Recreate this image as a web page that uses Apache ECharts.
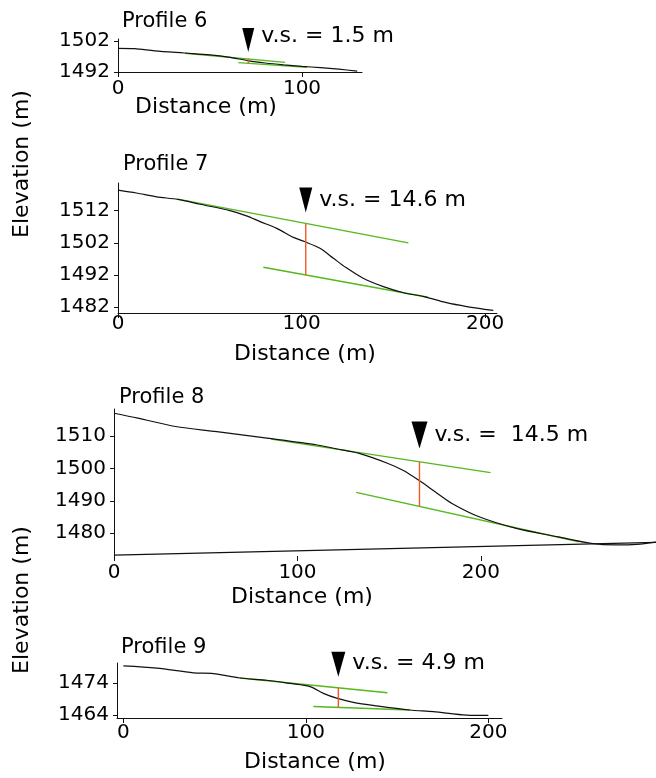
<!DOCTYPE html>
<html>
<head>
<meta charset="utf-8">
<script src="https://cdn.jsdelivr.net/npm/echarts@6.0.0/dist/echarts.min.js"></script>
<style>
  html, body { margin: 0; padding: 0; background: #fff; }
  #chart { width: 656px; height: 778px; }
</style>
</head>
<body>
<div id="chart"></div>
<script>
// profile names and vertical separation labels
const profileNames = ['Profile 6', 'Profile 7', 'Profile 8', 'Profile 9']
const vsLabels = ['v.s. = 1.5 m', 'v.s. = 14.6 m', 'v.s. =  14.5 m', 'v.s. = 4.9 m']

// surface profiles: distance (m) / elevation (m)
const dist6 = [0, 9, 20, 36, 50, 60, 71, 80, 90, 100, 110, 120, 130]
const elev6 = [1499.6, 1499.5, 1498.8, 1498.1, 1497.5, 1496.8, 1495.6, 1494.9, 1494.3, 1493.8, 1493.4, 1492.9, 1492.3]

const dist7 = [0, 10, 21, 32.6, 44.7, 61, 70, 77.4, 86.5, 95.6, 101.6, 110, 117.4, 124, 133.6, 144.6, 155.6, 166.7, 179, 190, 204.5]
const elev7 = [1518.4, 1517.5, 1516.3, 1515.5, 1514, 1512, 1510.4, 1508.6, 1506.5, 1503.7, 1502.4, 1500.3, 1497.2, 1494.4, 1491, 1488.4, 1486.5, 1485.3, 1483.4, 1482.2, 1481]

const dist8 = [0, 13, 33.5, 56, 83.4, 110.6, 125, 133.2, 149, 158, 166, 175, 184.2, 199, 219.3, 242, 260, 273.6, 285, 295.4]
const elev8 = [1517, 1515.5, 1512.9, 1511.3, 1509.3, 1507.2, 1505.6, 1504.7, 1501.6, 1499.3, 1496.4, 1492.8, 1489.2, 1485.1, 1481.5, 1478.9, 1476.9, 1476.4, 1476.6, 1477.3]

const dist9 = [0, 18.3, 38.4, 49.3, 63.9, 78.6, 91.3, 102.3, 109.6, 116.9, 126, 138.8, 157, 169.9, 188.2, 200]
const elev9 = [1479.3, 1478.6, 1477.1, 1476.9, 1475.5, 1474.8, 1473.8, 1472.8, 1470.7, 1469.2, 1467.9, 1466.8, 1465.5, 1465, 1463.9, 1463.8]

// fitted slope lines [start, end] as [distance, elevation]
const upperFit = [
  [[36.4, 1498.0], [90.8, 1495.1]],
  [[32.6, 1515.6], [158.2, 1502.0]],
  [[85.6, 1509.0], [205.2, 1498.7]],
  [[63.9, 1475.5], [144.7, 1470.9]]
]
const lowerFit = [
  [[65.4, 1495.0], [102.7, 1493.5]],
  [[79.2, 1494.4], [169.0, 1485.1]],
  [[132.0, 1492.6], [253.3, 1477.4]],
  [[104.1, 1466.6], [157.0, 1465.5]]
]

// vertical separation: where it is measured, top and bottom elevation
const vsDist = [70.8, 102.3, 166.5, 117.8]
const vsTop = [1496.2, 1508.0, 1502.0, 1472.4]
const vsBottom = [1494.8, 1492.0, 1488.3, 1466.3]
const markerElev = [1502.3, 1515.3, 1510.3, 1479.8]

// sloping base line under profile 8
const base8 = [[0, 1473.3], [295.4, 1477.2]]

// axis ranges and ticks
const xMin = [0, 0, 0, -3.5]
const xMax = [132.6, 206.5, 295.4, 207.5]
const yMin = [1492, 1480.2, 1473, 1463]
const yMax = [1502.6, 1520.6, 1518.3, 1480.2]
const xTicks = [[0, 100], [0, 100, 200], [0, 100, 200], [0, 100, 200]]
const yTicks = [[1492, 1502], [1482, 1492, 1502, 1512], [1480, 1490, 1500, 1510], [1464, 1474]]

const surfaces = [[dist6, elev6], [dist7, elev7], [dist8, elev8], [dist9, elev9]]

const chart = echarts.init(document.getElementById('chart'))
const font = 'DejaVu Sans'
const green = '#55b81c'
const red = '#ef5a24'

// plot areas
const grids = [
  { left: 118, top: 39, width: 244, height: 33 },
  { left: 118, top: 183, width: 379, height: 130 },
  { left: 114, top: 409, width: 542, height: 147 },
  { left: 117, top: 663, width: 385, height: 55 }
]
const titleTops = [11, 154, 387, 637]
const titleLefts = [122, 123, 119, 121]
const xLabelMargin = [7, 1, 7, 5]
const markerSize = [[12, 24], [13, 25], [16, 27], [14, 25]]
const labelOffsetY = [-4, 0, 0, -1]

const xAxis = []
const yAxis = []
const series = []
const titles = []

grids.forEach((g, i) => {
  xAxis.push({
    type: 'value',
    gridIndex: i,
    min: xMin[i],
    max: xMax[i],
    axisLine: { show: i !== 2, onZero: false, lineStyle: { color: '#111', width: 1 } },
    axisTick: { show: true, length: 5, customValues: xTicks[i], lineStyle: { color: '#111' } },
    axisLabel: { customValues: xTicks[i], color: '#000', fontSize: 20, fontFamily: font, margin: xLabelMargin[i], formatter: v => String(v) },
    splitLine: { show: false }
  })
  yAxis.push({
    type: 'value',
    gridIndex: i,
    min: yMin[i],
    max: yMax[i],
    axisLine: { show: true, onZero: false, lineStyle: { color: '#111', width: 1 } },
    axisTick: { show: true, length: 4, customValues: yTicks[i], lineStyle: { color: '#111' } },
    axisLabel: { customValues: yTicks[i], color: '#000', fontSize: 20, fontFamily: font, margin: 8, formatter: v => String(v) },
    splitLine: { show: false }
  })
  titles.push({
    text: profileNames[i],
    left: titleLefts[i],
    top: titleTops[i],
    padding: 0,
    textStyle: { fontSize: 21, fontWeight: 'normal', color: '#000', fontFamily: font }
  })

  const [d, e] = surfaces[i]
  series.push({
    type: 'line',
    xAxisIndex: i,
    yAxisIndex: i,
    data: d.map((v, k) => [v, e[k]]),
    showSymbol: false,
    smooth: 0.3,
    lineStyle: { color: '#111', width: 1.2 },
    z: 3
  })
  series.push({
    type: 'line', xAxisIndex: i, yAxisIndex: i, data: upperFit[i],
    showSymbol: false, lineStyle: { color: green, width: 1.4 }, z: 2
  })
  series.push({
    type: 'line', xAxisIndex: i, yAxisIndex: i, data: lowerFit[i],
    showSymbol: false, lineStyle: { color: green, width: 1.4 }, z: 2
  })
  series.push({
    type: 'line', xAxisIndex: i, yAxisIndex: i,
    data: [[vsDist[i], vsTop[i]], [vsDist[i], vsBottom[i]]],
    showSymbol: false, lineStyle: { color: red, width: 1.4 }, z: 4
  })
  series.push({
    type: 'scatter', xAxisIndex: i, yAxisIndex: i,
    data: [[vsDist[i], markerElev[i]]],
    symbol: 'triangle',
    symbolRotate: 180,
    symbolSize: markerSize[i],
    itemStyle: { color: '#000', opacity: 1 },
    label: {
      show: true,
      position: 'right',
      distance: 7,
      offset: [0, labelOffsetY[i]],
      formatter: vsLabels[i],
      color: '#000',
      opacity: 1,
      fontSize: 22,
      fontFamily: font
    },
    silent: true,
    z: 5
  })
})

series.push({
  type: 'line', xAxisIndex: 2, yAxisIndex: 2, data: base8,
  showSymbol: false, lineStyle: { color: '#111', width: 1.2 }, z: 3
})

// axis names
const textStyle = (txt, x, y, rot) => ({
  type: 'text',
  x: x,
  y: y,
  rotation: rot || 0,
  style: {
    text: txt,
    x: 0,
    y: 0,
    fill: '#000',
    font: '22px "DejaVu Sans"',
    textAlign: 'center',
    textVerticalAlign: 'middle'
  }
})

const option = {
  animation: false,
  title: titles,
  grid: grids,
  xAxis: xAxis,
  yAxis: yAxis,
  series: series,
  graphic: [
    textStyle('Distance (m)', 206, 107),
    textStyle('Distance (m)', 305, 354),
    textStyle('Distance (m)', 302, 597),
    textStyle('Distance (m)', 315, 762),
    textStyle('Elevation (m)', 22, 164, Math.PI / 2),
    textStyle('Elevation (m)', 22, 600, Math.PI / 2)
  ]
}

chart.setOption(option)
</script>
</body>
</html>
